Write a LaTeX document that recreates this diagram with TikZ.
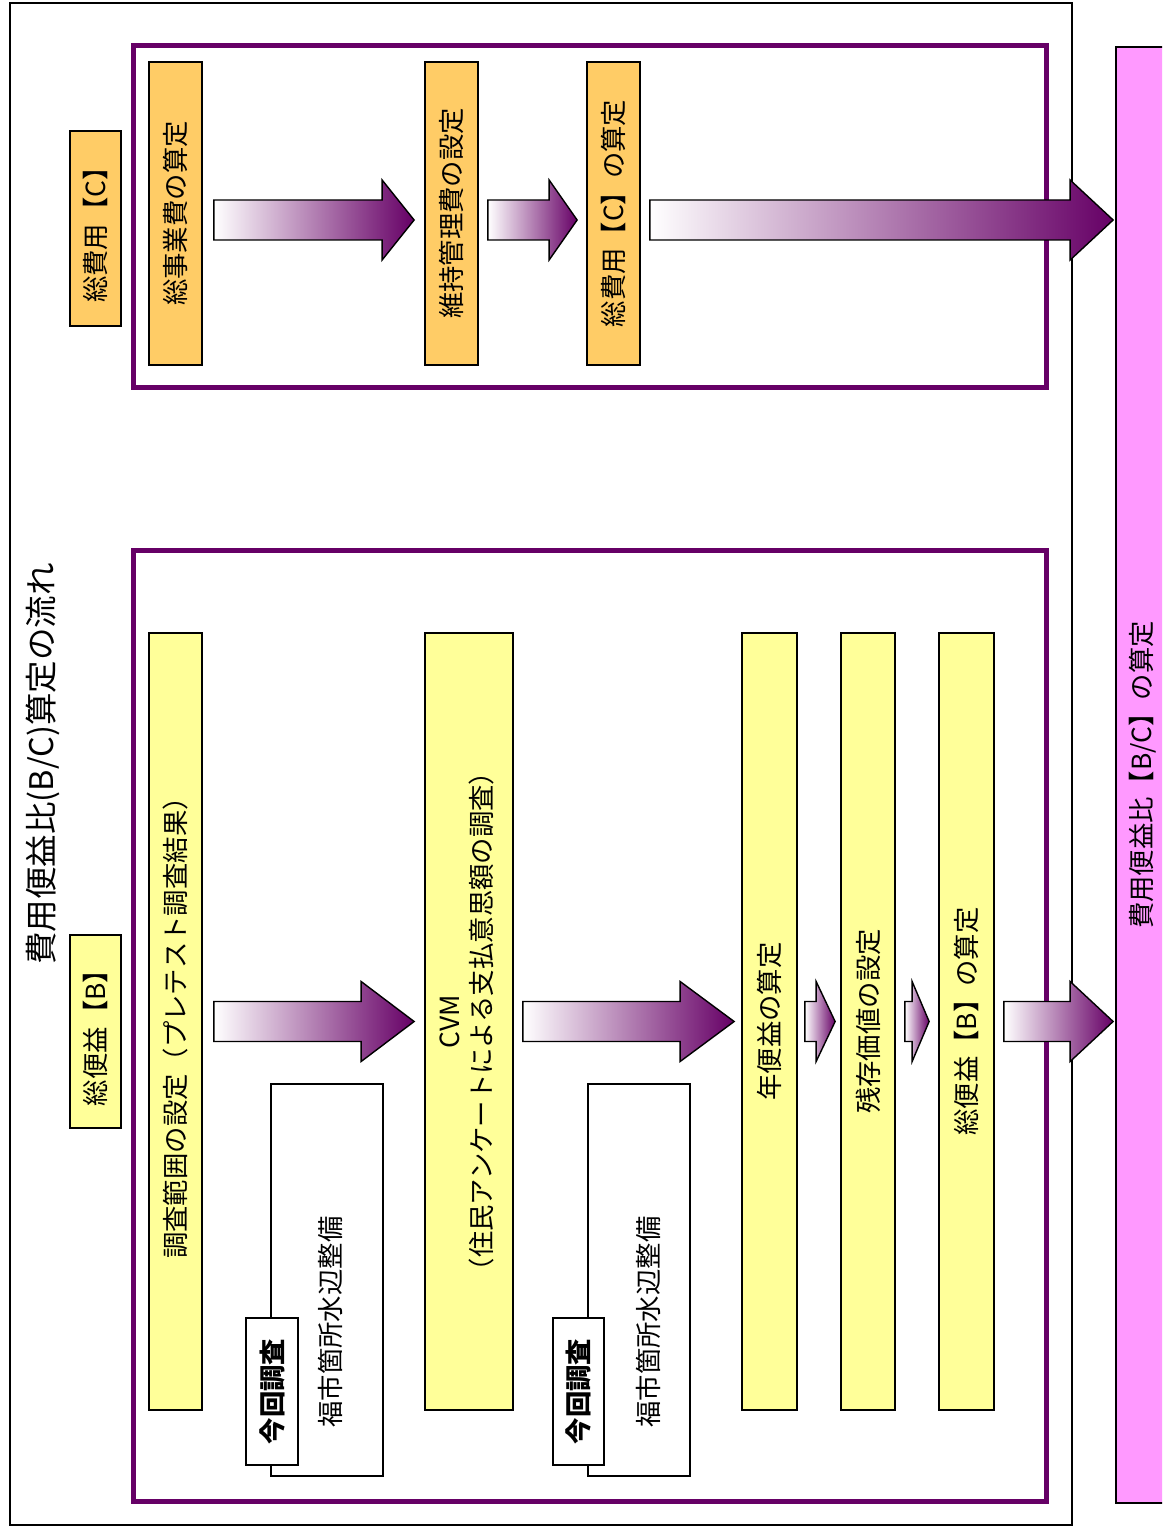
\documentclass[tikz,border=0pt]{standalone}
\usepackage{fontspec}
\setmainfont{Noto Sans CJK JP}
\usepackage{tikz}
\usetikzlibrary{calc}
\definecolor{BCPurple}{RGB}{102,0,102}
\definecolor{BCMauve}{RGB}{196,182,196}
\definecolor{BCYellow}{RGB}{255,255,153}
\definecolor{BCOrange}{RGB}{255,204,102}
\definecolor{BCPink}{RGB}{255,153,255}
\newcommand{\vtext}[1]{\rotatebox{90}{#1}}
% shaded block arrow: start, tip, head length
\newcommand{\flowarrow}[3]{%
  \path[flow] let \p1=(#1), \p2=(#2) in
    (\x1,\y1+4mm) -- (\x2-#3,\y1+4mm) -- (\x2-#3,\y1+8mm) -- (\x2,\y1)
    -- (\x2-#3,\y1-8mm) -- (\x2-#3,\y1-4mm) -- (\x1,\y1-4mm) -- cycle;}

\begin{document}
\begin{tikzpicture}[x=0.2mm, y=-0.2mm,
          box/.style={rectangle, draw, line width=1pt, inner sep=0pt,
                      font=\fontsize{15}{18}\selectfont},
          frame/.style={draw=BCPurple, line width=1mm},
          flow/.style={draw, line width=0.8pt, left color=white,
                       middle color=BCMauve, right color=BCPurple}
        ]
        \useasboundingbox (0,0) rectangle (1162,1528);
        \clip (0,0) rectangle (1162,1528);
        \draw[line width=1pt] (10,3) rectangle (1072,1525);

        \node[font=\fontsize{18.5}{22}\selectfont] (title) at (43,764)
              {\vtext{費用便益比(B/C)算定の流れ}};

        % Cost side
        \node[box, fill=BCOrange, minimum width=10.2mm, minimum height=39mm]
              (cLabel) at (95.5,228.5) {\vtext{総費用【C】}};
        \draw[frame] (133,46) rectangle (1046,388);
        \node[box, fill=BCOrange, minimum width=10.6mm, minimum height=60.6mm]
              (c1) at (175.5,213.5) {\vtext{総事業費の算定}};
        \node[box, fill=BCOrange, minimum width=10.6mm, minimum height=60.6mm]
              (c2) at (451.5,213.5) {\vtext{維持管理費の設定}};
        \node[box, fill=BCOrange, minimum width=10.6mm, minimum height=60.6mm]
              (c3) at (613.5,213.5) {\vtext{総費用【C】の算定}};

        % Benefit side
        \node[box, fill=BCYellow, minimum width=10.2mm, minimum height=38.6mm]
              (bLabel) at (95.5,1031.5) {\vtext{総便益【B】}};
        \draw[frame] (133,550) rectangle (1046,1501);
        \node[box, fill=BCYellow, minimum width=10.6mm, minimum height=155.4mm]
              (b1) at (175.5,1021.5) {\vtext{調査範囲の設定（プレテスト調査結果）}};
        \node[box, fill=BCYellow, minimum width=17.6mm, minimum height=155.4mm]
              (b2) at (469,1021.5)
              {\vtext{\begin{tabular}{@{}c@{}}CVM\\（住民アンケートによる支払意思額の調査）\end{tabular}}};
        \node[box, fill=BCYellow, minimum width=11mm, minimum height=155.4mm]
              (b3) at (769.5,1021.5) {\vtext{年便益の算定}};
        \node[box, fill=BCYellow, minimum width=10.8mm, minimum height=155.4mm]
              (b4) at (868,1021.5) {\vtext{残存価値の設定}};
        \node[box, fill=BCYellow, minimum width=11mm, minimum height=155.4mm]
              (b5) at (966.5,1021.5) {\vtext{総便益【B】の算定}};

        % Survey notes
        \node[box, fill=white, minimum width=22.4mm, minimum height=78.4mm]
              (note1) at (327,1280) {};
        \node[box, fill=white, minimum width=10.4mm, minimum height=29.4mm]
              (tab1) at (272,1391.5) {\vtext{\bfseries 今回調査}};
        \node[font=\fontsize{15}{18}\selectfont] (site1) at (330,1322)
              {\vtext{福市箇所水辺整備}};
        \node[box, fill=white, minimum width=20.4mm, minimum height=78.4mm]
              (note2) at (639,1280) {};
        \node[box, fill=white, minimum width=10.2mm, minimum height=29.4mm]
              (tab2) at (578.5,1391.5) {\vtext{\bfseries 今回調査}};
        \node[font=\fontsize{15}{18}\selectfont] (site2) at (648,1322)
              {\vtext{福市箇所水辺整備}};

        % Result
        \node[box, fill=BCPink, minimum width=10.8mm, minimum height=291.2mm]
              (bc) at (1143,775) {\vtext{費用便益比【B/C】の算定}};

        % Flow arrows
        \flowarrow{$(c1.east)+(11,6.5)$}{$(c2.west)+(-10,0)$}{6.4mm}
        \flowarrow{$(c2.east)+(9,6.5)$}{$(c3.west)+(-9,0)$}{5.6mm}
        \flowarrow{$(c3.east)+(9,6.5)$}{$(bc.west)+(-2,0)$}{8.6mm}
        \flowarrow{$(b1.east)+(11,0)$}{$(b2.west)+(-10,0)$}{10.6mm}
        \flowarrow{$(b2.east)+(9,0)$}{$(b3.west)+(-7,0)$}{10.8mm}
        \flowarrow{$(b3.east)+(7,0)$}{$(b4.west)+(-5,0)$}{3.8mm}
        \flowarrow{$(b4.east)+(9,0)$}{$(b5.west)+(-9,0)$}{3.4mm}
        \flowarrow{$(b5.east)+(9,0)$}{$(bc.west)+(-2,0)$}{8.6mm}
      \end{tikzpicture}
\end{document}
